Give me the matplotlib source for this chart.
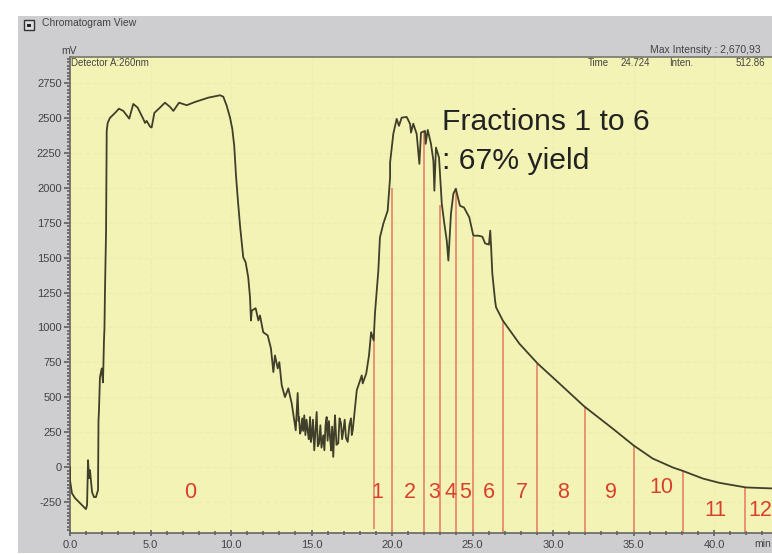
#!/usr/bin/env python

"""
Chromatogram view with the collected fractions marked in red.
"""

import numpy as np
import matplotlib
matplotlib.use("Agg")
import matplotlib.pyplot as plt
from matplotlib.patches import Rectangle
from matplotlib.ticker import MultipleLocator, FormatStrFormatter

plt.rcParams['font.family'] = ['Liberation Sans', 'DejaVu Sans']
plt.rcParams['axes.unicode_minus'] = False

# trace, min / mV
time = [0.0, 0.0, 0.12, 0.31, 0.62, 0.99, 1.06, 1.12, 1.18, 1.24, 1.30, 1.37,
        1.49, 1.61, 1.74, 1.77, 1.80, 1.86, 1.97, 2.05, 2.11, 2.14, 2.17, 2.24,
        2.28, 2.34, 2.48, 2.80, 3.04, 3.31, 3.68, 3.93, 4.20, 4.55, 4.66, 4.76,
        4.97, 5.07, 5.24, 5.59, 5.90, 6.21, 6.42, 6.77, 7.25, 7.76, 8.59, 9.32,
        9.52, 9.73, 9.94, 10.08, 10.20, 10.31, 10.43, 10.56, 10.76, 10.91,
        11.07, 11.18, 11.24, 11.29, 11.53, 11.70, 11.80, 12.00, 12.28, 12.48,
        12.63, 12.73, 12.90, 13.00, 13.15, 13.35, 13.56, 13.77,
        14.02, 14.08, 14.14, 14.20, 14.22, 14.29, 14.35, 14.42, 14.48, 14.55,
        14.62, 14.69, 14.76, 14.83, 14.91, 14.96, 15.01, 15.09, 15.17, 15.24,
        15.32, 15.39, 15.47, 15.55, 15.62, 15.73, 15.80, 15.87, 15.94, 16.00,
        16.08, 16.15, 16.22, 16.28, 16.35, 16.41, 16.46, 16.55, 16.66, 16.74,
        16.83, 16.90, 16.98, 17.06, 17.14, 17.25, 17.35, 17.45, 17.50, 17.56,
        17.81, 18.12, 18.18, 18.40, 18.57, 18.70, 18.86, 18.94, 19.15,
        19.25, 19.46, 19.73, 19.88, 19.88, 20.08, 20.29, 20.43, 20.60, 20.91,
        21.12, 21.18, 21.32, 21.53, 21.70, 21.80, 22.05, 22.09, 22.22, 22.42,
        22.57, 22.63, 22.73, 22.92, 23.09, 23.25, 23.40, 23.50, 23.66, 23.81,
        23.96, 24.22, 24.47, 24.80, 25.05, 25.36, 25.61, 25.78, 26.02, 26.10,
        26.15, 26.23, 26.40, 26.46, 26.88, 27.91, 29.05, 30.19, 31.93, 33.71,
        34.99, 36.19, 37.44, 38.05, 39.30, 40.33, 41.99, 43.60]
signal = [0, -93, -186, -221, -257, -300, -271, 50, -79, -21, -93, -179,
          -214, -214, -164, 336, 407, 643, 707, 607, 907, 993, 1243, 1693,
          2407, 2464, 2500, 2536, 2566, 2550, 2495, 2600, 2574, 2493, 2464, 2479,
          2438, 2431, 2536, 2574, 2609, 2579, 2550, 2609, 2591, 2614, 2645, 2662,
          2652, 2588, 2502, 2421, 2300, 2086, 1907, 1729, 1502, 1466,
          1359, 1216, 1050, 1121, 1138, 1050, 1086, 966, 943, 850,
          681, 800, 707, 752, 586, 502, 564, 457,
          264, 400, 531, 330, 359, 240, 264, 350, 260, 371,
          230, 340, 264, 200, 359, 180, 216, 340, 121, 250,
          395, 150, 171, 300, 140, 229, 121, 300, 359, 190,
          330, 216, 120, 290, 74, 250, 371, 160, 171, 350,
          314, 200, 264, 340, 210, 181, 300, 350, 230, 264,
          550, 657, 600, 671, 800, 966, 907, 1100, 1407,
          1645, 1743, 1836, 2074, 2181, 2386, 2493, 2443, 2502, 2507,
          2457, 2395, 2459, 2386, 2171, 2395, 2407, 2314, 2414, 2314,
          2193, 1979, 2288, 2216, 1886, 1743, 1621, 1479, 1814, 1957,
          1993, 1871, 1859, 1788, 1657, 1657, 1650, 1602, 1593, 1693,
          1586, 1386, 1193, 1145, 1050, 884, 741, 621, 436, 276,
          157, 62, -2, -26, -81, -112, -145, -152]

# fraction cuts and where each one meets the trace
cut_time = [18.9, 20.0, 22.0, 23.0, 24.0, 25.0, 26.9, 29.0, 32.0, 35.0, 38.05, 41.95]
cut_top = [950, 2000, 2400, 1880, 2000, 1650, 1050, 740, 435, 157, -30, -140]
cut_bottom = [-440, -471, -471, -471, -471, -471, -471, -471, -471, -471, -471, -471]

frac_labels = ["0", "1", "2", "3", "4", "5", "6", "7", "8", "9", "10", "11", "12"]
frac_time = [7.45, 19.07, 21.1, 22.6, 23.62, 24.55, 26.02, 28.07, 30.6, 33.6, 36.7, 40.06, 42.9]
frac_level = [-179, -179, -179, -179, -179, -179, -179, -179, -179, -179, -143, -307, -307]

W, H = 772.0, 554.0
YELLOW = "#f4f3b6"
GREY = "#cecdcf"
TXT = "#444444"
RED = "#d8402c"

fig = plt.figure(figsize=(W / 100, H / 100), dpi=100, facecolor="white")
fig.patches.append(Rectangle((18 / W, 1 / H), 754 / W, 537 / H, transform=fig.transFigure,
                             facecolor=GREY, edgecolor="none", zorder=-1))

ax = fig.add_axes([70 / W, 21 / H, (W - 70) / W, 476 / H])
ax.set_facecolor(YELLOW)
ax.set_xlim(0, 43.6)
ax.set_ylim(-471, 2936)

ax.spines["right"].set_visible(False)
ax.spines["top"].set_color("#77776a")
ax.spines["top"].set_linewidth(1.2)
ax.spines["left"].set_color("#666666")
ax.spines["bottom"].set_color("#666666")
ax.spines["left"].set_linewidth(1.2)
ax.spines["bottom"].set_linewidth(1.2)

ax.xaxis.set_major_locator(MultipleLocator(5))
ax.xaxis.set_minor_locator(MultipleLocator(1))
ax.xaxis.set_major_formatter(FormatStrFormatter("%.1f"))
ax.yaxis.set_major_locator(MultipleLocator(250))
ax.yaxis.set_minor_locator(MultipleLocator(25))
ax.tick_params(axis="both", which="major", labelsize=8, labelcolor=TXT, color="#555555",
               length=4, width=1.1, pad=2)
ax.tick_params(axis="both", which="minor", color="#555555", length=2.5, width=1.1)
ax.tick_params(axis="x", which="minor", direction="inout")
ax.tick_params(axis="x", which="major", direction="inout", pad=3)
ax.tick_params(axis="y", which="minor", direction="out")

# faint grid
ax.grid(True, which="major", color="#ecedb4", lw=0.9, ls=(0, (4, 2)), zorder=0)

ax.vlines(cut_time, cut_bottom, cut_top, color="#ea8a70", lw=1.3, zorder=2)
ax.plot(time, signal, color="#3f3f2a", lw=1.3, zorder=3, solid_joinstyle="round")

for lab, t, v in zip(frac_labels, frac_time, frac_level):
    ax.text(t, v, lab, color=RED, fontsize=15.5, ha="center", va="center", zorder=4)

ax.text(23.12, 2470, "Fractions 1 to 6", fontsize=21.7, color="#222222", va="center", ha="left", zorder=4)
ax.text(23.12, 2190, ": 67% yield", fontsize=21.7, color="#222222", va="center", ha="left", zorder=4)

# window furniture
fig.text(42 / W, 1 - 23 / H, "Chromatogram View", fontsize=7.5, color="#444444", va="center")
fig.patches.append(Rectangle((24 / W, 1 - 30 / H), 10 / W, 10 / H, transform=fig.transFigure,
                             facecolor="#dddddd", edgecolor="#333333", lw=1))
fig.patches.append(Rectangle((27 / W, 1 - 27 / H), 4 / W, 3 / H, transform=fig.transFigure,
                             facecolor="#222222", edgecolor="none"))
fig.text(61 / W, 1 - 51 / H, "mV", fontsize=7.5, color=TXT, va="center")
fig.text(71 / W, 1 - 63 / H, "Detector A:260nm", fontsize=7, color=TXT, va="center")
fig.text(650 / W, 1 - 50 / H, "Max Intensity : 2,670,93", fontsize=7.5, color=TXT, va="center")
fig.text(588 / W, 1 - 63 / H, "Time", fontsize=7, color=TXT, va="center")
fig.text(621 / W, 1 - 63 / H, "24.724", fontsize=7, color=TXT, va="center")
fig.text(669 / W, 1 - 63 / H, "Inten.", fontsize=7, color=TXT, va="center")
fig.text(736 / W, 1 - 63 / H, "512.86", fontsize=7, color=TXT, va="center")
fig.text(771 / W, 1 - 544 / H, "min", fontsize=7.5, color=TXT, va="center", ha="right")

fig.savefig("out.png", dpi=100)
